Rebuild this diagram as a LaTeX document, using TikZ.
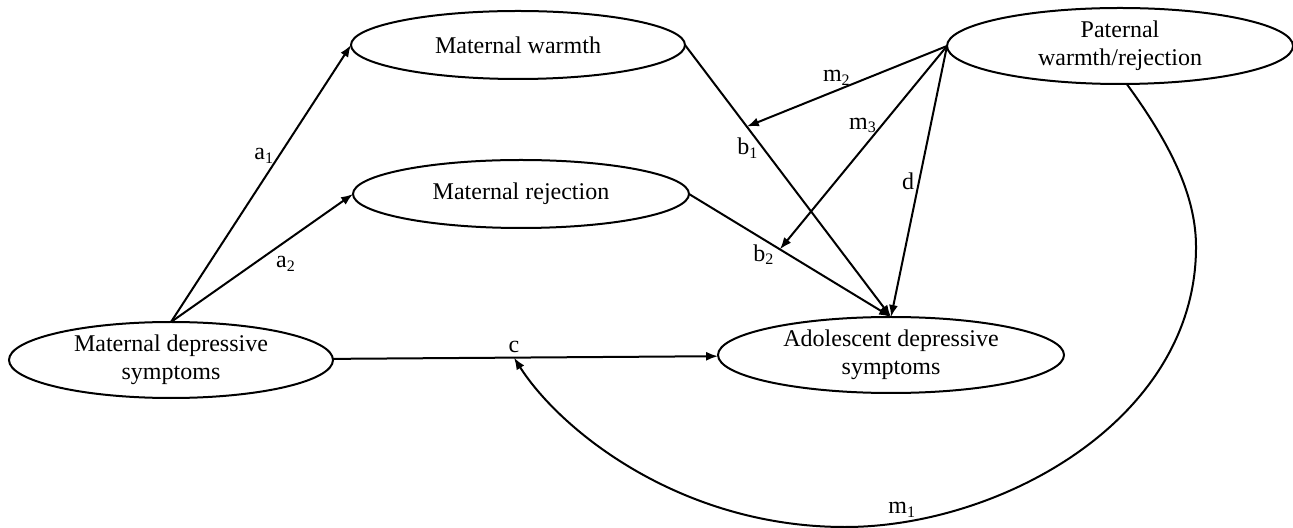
\documentclass[tikz,border=0pt]{standalone}
\usepackage{fontspec}
\setmainfont{Liberation Serif}
\usetikzlibrary{shapes.geometric, arrows.meta}

\begin{document}
\begin{tikzpicture}[x=0.5pt, y=-0.5pt,
  latent/.style={ellipse, draw, line width=1pt, inner xsep=0pt, inner ysep=-4pt, outer sep=0pt, align=center, font=\fontsize{12}{14}\selectfont},
  effect/.style={-{Latex[length=6pt, width=4.5pt]}, line width=1pt},
  coef/.style={font=\fontsize{12}{14}\selectfont, inner sep=2pt}]
  \useasboundingbox (0,0) rectangle (1293,528);
  \node[latent, minimum width=162pt, minimum height=38pt] (MD) at (171,360) {Maternal depressive\\symptoms};
  \node[latent, minimum width=167pt, minimum height=34pt] (MW) at (518,45) {Maternal warmth};
  \node[latent, minimum width=168pt, minimum height=34pt] (MR) at (521,194) {Maternal rejection};
  \node[latent, minimum width=173pt, minimum height=38pt] (AD) at (891,355) {Adolescent depressive\\symptoms};
  \node[latent, minimum width=173pt, minimum height=38pt] (PW) at (1120,46) {Paternal\\warmth/rejection};
  \draw[effect] (MD.north) -- node[coef, pos=0.6, left] {a\textsubscript{1}} (MW.west);
  \draw[effect] (MD.north) -- node[coef, pos=0.55, below right] {a\textsubscript{2}} (MR.west);
  \draw[effect] (MD) -- node[coef, pos=0.47, above] {c} coordinate[pos=0.47] (cm) (AD);
  \draw[effect] (MW.east) -- node[coef, pos=0.38, left] {b\textsubscript{1}} coordinate[pos=0.3] (bw) (AD.north);
  \draw[effect] (MR.east) -- node[coef, pos=0.37, below] {b\textsubscript{2}} coordinate[pos=0.45] (br) (AD.north);
  \draw[effect] (PW.west) -- node[coef, pos=0.55, above] {m\textsubscript{2}} (bw);
  \draw[effect] (PW.west) -- node[coef, pos=0.39, left] {m\textsubscript{3}} (br);
  \draw[effect] (PW.west) -- node[coef, pos=0.5, left] {d} (AD.north);
  % m1 curves round the right side and under the outcome
  \draw[effect] (PW.-80) .. controls (1175,150) and (1196,200) .. (1196,247)
    .. controls (1196,420) and (1000,527) .. (845,527) node[coef, pos=0.88, above] {m\textsubscript{1}}
    .. controls (680,527) and (560,430) .. (cm);
\end{tikzpicture}
\end{document}
